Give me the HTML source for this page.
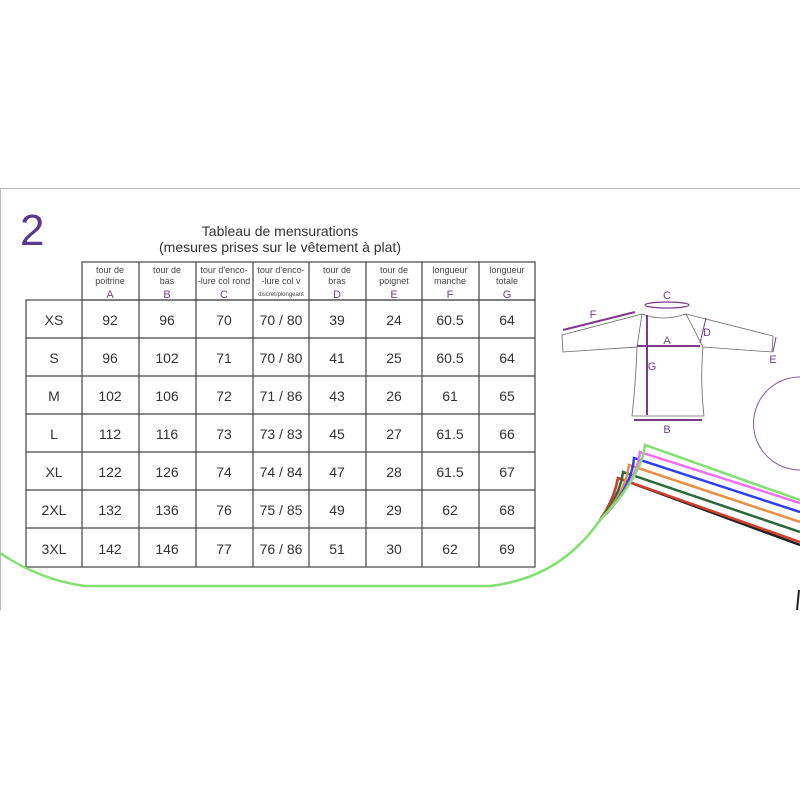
<!DOCTYPE html>
<html><head><meta charset="utf-8"><style>
body{margin:0;background:#fff}
svg{display:block;font-family:"Liberation Sans",sans-serif}
</style></head><body>
<svg width="800" height="800" viewBox="0 0 800 800">
<line x1="0" y1="188.5" x2="800" y2="188.5" stroke="#bbb"/>
<line x1="0.5" y1="188" x2="0.5" y2="610" stroke="#bbb"/>
<text x="20" y="245" font-size="44" fill="#5a3a8a" font-weight="300">2</text>
<text x="280" y="236" font-size="14" text-anchor="middle" fill="#333">Tableau de mensurations</text>
<text x="280" y="252" font-size="14" text-anchor="middle" fill="#333">(mesures prises sur le vêtement à plat)</text>
<g stroke="#444" stroke-width="1.2" fill="none">
<rect x="82" y="262" width="453" height="38"/>
<rect x="26" y="300" width="509" height="267"/>
<line x1="139" y1="262" x2="139" y2="567"/><line x1="196" y1="262" x2="196" y2="567"/>
<line x1="253" y1="262" x2="253" y2="567"/><line x1="309" y1="262" x2="309" y2="567"/>
<line x1="366" y1="262" x2="366" y2="567"/><line x1="422" y1="262" x2="422" y2="567"/>
<line x1="479" y1="262" x2="479" y2="567"/><line x1="82" y1="300" x2="82" y2="567"/>
<line x1="26" y1="338" x2="535" y2="338"/><line x1="26" y1="376" x2="535" y2="376"/>
<line x1="26" y1="414" x2="535" y2="414"/><line x1="26" y1="452" x2="535" y2="452"/>
<line x1="26" y1="490" x2="535" y2="490"/><line x1="26" y1="528" x2="535" y2="528"/>
</g>
<g font-size="9" text-anchor="middle" fill="#444">
<text x="110" y="273">tour de</text><text x="110" y="284">poitrine</text>
<text x="167" y="273">tour de</text><text x="167" y="284">bas</text>
<text x="224" y="273">tour d'enco-</text><text x="224" y="284">-lure col rond</text>
<text x="281" y="273">tour d'enco-</text><text x="281" y="284">-lure col v</text>
<text x="281" y="296" font-size="6">discret/plongeant</text>
<text x="337" y="273">tour de</text><text x="337" y="284">bras</text>
<text x="394" y="273">tour de</text><text x="394" y="284">poignet</text>
<text x="450" y="273">longueur</text><text x="450" y="284">manche</text>
<text x="507" y="273">longueur</text><text x="507" y="284">totale</text>
</g>
<g font-size="11" text-anchor="middle" fill="#7a3a9a">
<text x="110" y="298">A</text><text x="167" y="298">B</text><text x="224" y="298">C</text>
<text x="337" y="298">D</text><text x="394" y="298">E</text><text x="450" y="298">F</text><text x="507" y="298">G</text>
</g>
<g font-size="14" text-anchor="middle" fill="#333">
<text x="54" y="325">XS</text><text x="110" y="325">92</text><text x="167" y="325">96</text><text x="224" y="325">70</text><text x="281" y="325">70 / 80</text><text x="337" y="325">39</text><text x="394" y="325">24</text><text x="450" y="325">60.5</text><text x="507" y="325">64</text>
<text x="54" y="363">S</text><text x="110" y="363">96</text><text x="167" y="363">102</text><text x="224" y="363">71</text><text x="281" y="363">70 / 80</text><text x="337" y="363">41</text><text x="394" y="363">25</text><text x="450" y="363">60.5</text><text x="507" y="363">64</text>
<text x="54" y="401">M</text><text x="110" y="401">102</text><text x="167" y="401">106</text><text x="224" y="401">72</text><text x="281" y="401">71 / 86</text><text x="337" y="401">43</text><text x="394" y="401">26</text><text x="450" y="401">61</text><text x="507" y="401">65</text>
<text x="54" y="439">L</text><text x="110" y="439">112</text><text x="167" y="439">116</text><text x="224" y="439">73</text><text x="281" y="439">73 / 83</text><text x="337" y="439">45</text><text x="394" y="439">27</text><text x="450" y="439">61.5</text><text x="507" y="439">66</text>
<text x="54" y="477">XL</text><text x="110" y="477">122</text><text x="167" y="477">126</text><text x="224" y="477">74</text><text x="281" y="477">74 / 84</text><text x="337" y="477">47</text><text x="394" y="477">28</text><text x="450" y="477">61.5</text><text x="507" y="477">67</text>
<text x="54" y="515">2XL</text><text x="110" y="515">132</text><text x="167" y="515">136</text><text x="224" y="515">76</text><text x="281" y="515">75 / 85</text><text x="337" y="515">49</text><text x="394" y="515">29</text><text x="450" y="515">62</text><text x="507" y="515">68</text>
<text x="54" y="554">3XL</text><text x="110" y="554">142</text><text x="167" y="554">146</text><text x="224" y="554">77</text><text x="281" y="554">76 / 86</text><text x="337" y="554">51</text><text x="394" y="554">30</text><text x="450" y="554">62</text><text x="507" y="554">69</text>
</g>
<path d="M0 553 Q40 580 85 586 L490 586 Q560 578 600 520" stroke="#80e070" stroke-width="2.5" fill="none"/>
<g fill="none" stroke-width="2.5">
<path d="M600 520 Q614 500 618 478 L800 545" stroke="#222"/>
<path d="M600 520 Q614 500 618 478 L800 542" stroke="#d04030"/>
<path d="M602 518 Q620 495 623 472 L800 532" stroke="#2a6a3a"/>
<path d="M604 516 Q626 490 629 465 L800 522" stroke="#e89040"/>
<path d="M606 514 Q632 485 634 458 L800 512" stroke="#3040f0"/>
<path d="M608 512 Q637 480 640 452 L800 503" stroke="#f070f0"/>
<path d="M600 520 Q642 476 645 445 L800 500" stroke="#80e070"/>
</g>
<line x1="799" y1="590" x2="797" y2="610" stroke="#222" stroke-width="2"/>
<path d="M800 377 A45 45 0 0 0 800 470" stroke="#8a5aa0" fill="none"/>
<g stroke="#666" stroke-width="0.8" fill="none">
<path d="M562 335 L642 314 Q662 322 686 314 L773 336 L772 352 L703 347 Q700 380 704 416 L632 416 Q636 380 637 347 L563 352 Z"/>
<path d="M642 314 L637 347 M686 314 L703 347"/>
</g>
<g stroke="#7a3a8a" stroke-width="2" fill="none">
<line x1="563" y1="330" x2="635" y2="312"/>
<line x1="647" y1="315" x2="647" y2="415"/>
<line x1="637" y1="346" x2="700" y2="346"/>
<line x1="634" y1="420" x2="702" y2="420"/>
<line x1="706" y1="318" x2="700" y2="343" stroke-width="1"/>
<line x1="776" y1="337" x2="773" y2="352" stroke-width="1"/>
<ellipse cx="667" cy="305" rx="22" ry="3" stroke-width="1.2"/>
</g>
<g font-size="11" fill="#7a3a9a" text-anchor="middle">
<text x="593" y="318">F</text><text x="667" y="299">C</text><text x="707" y="336">D</text>
<text x="667" y="344">A</text><text x="652" y="370">G</text><text x="773" y="363">E</text><text x="667" y="433">B</text>
</g>
</svg>
</body></html>
